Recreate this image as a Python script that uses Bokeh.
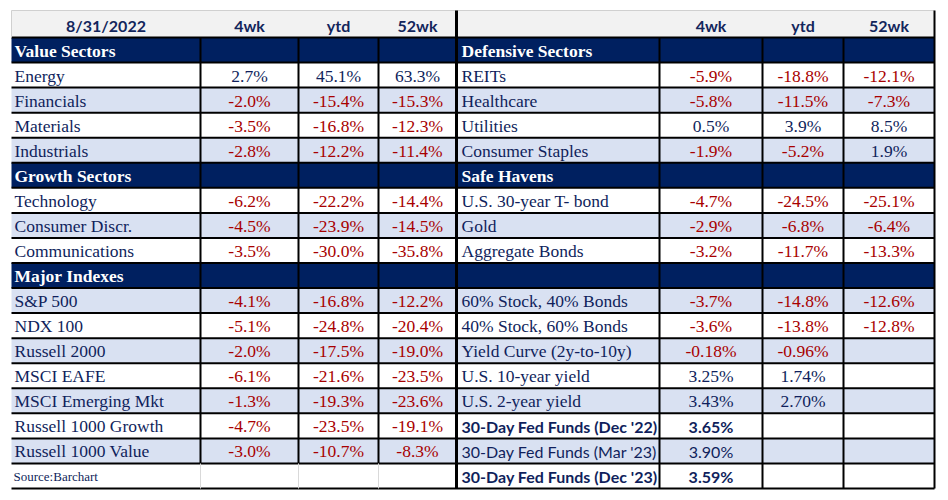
from bokeh.plotting import figure
from bokeh.models import Range1d, ColumnDataSource
from bokeh.core.properties import value
from bokeh.embed import file_html
from bokeh.resources import INLINE

# ---------------- data ----------------
date_label = "8/31/2022"
col_heads = ["4wk", "ytd", "52wk"]

value_labels = ["Energy", "Financials", "Materials", "Industrials"]
value_4wk = [2.7, -2.0, -3.5, -2.8]
value_ytd = [45.1, -15.4, -16.8, -12.2]
value_52wk = [63.3, -15.3, -12.3, -11.4]

growth_labels = ["Technology", "Consumer Discr.", "Communications"]
growth_4wk = [-6.2, -4.5, -3.5]
growth_ytd = [-22.2, -23.9, -30.0]
growth_52wk = [-14.4, -14.5, -35.8]

index_labels = ["S&P 500", "NDX 100", "Russell 2000", "MSCI EAFE",
                "MSCI Emerging Mkt", "Russell 1000 Growth", "Russell 1000 Value"]
index_4wk = [-4.1, -5.1, -2.0, -6.1, -1.3, -4.7, -3.0]
index_ytd = [-16.8, -24.8, -17.5, -21.6, -19.3, -23.5, -10.7]
index_52wk = [-12.2, -20.4, -19.0, -23.5, -23.6, -19.1, -8.3]

defensive_labels = ["REITs", "Healthcare", "Utilities", "Consumer Staples"]
defensive_4wk = [-5.9, -5.8, 0.5, -1.9]
defensive_ytd = [-18.8, -11.5, 3.9, -5.2]
defensive_52wk = [-12.1, -7.3, 8.5, 1.9]

safe_labels = ["U.S. 30-year T- bond", "Gold", "Aggregate Bonds"]
safe_4wk = [-4.7, -2.9, -3.2]
safe_ytd = [-24.5, -6.8, -11.7]
safe_52wk = [-25.1, -6.4, -13.3]

mix_labels = ["60% Stock, 40% Bonds", "40% Stock, 60% Bonds"]
mix_4wk = [-3.7, -3.6]
mix_ytd = [-14.8, -13.8]
mix_52wk = [-12.6, -12.8]

rate_labels = ["Yield Curve (2y-to-10y)", "U.S. 10-year yield", "U.S. 2-year yield"]
rate_4wk = [-0.18, 3.25, 3.43]
rate_ytd = [-0.96, 1.74, 2.70]

fed_labels = ["30-Day Fed Funds (Dec '22)", "30-Day Fed Funds (Mar '23)", "30-Day Fed Funds (Dec '23)"]
fed_values = [3.65, 3.90, 3.59]
fed_bold = [True, False, True]

source_label = "Source:Barchart"

# ---------------- styles ----------------
NAVY = "#002060"
BAND = "#d9e1f2"
HEAD_BG = "#f2f2f2"
TXT = "#101f5c"
HEAD_TXT = "#13265c"
RED = "#a80000"
SERIF = "Liberation Serif"
SANS = "Lato"

X_L = [11, 200, 298, 378, 456]
X_R = [456, 659, 762, 843, 934]
Y_TOP = 10
Y0 = 37
Y_END = 488
NROWS = 18
RH = (Y_END - Y0) / NROWS


def fmt(v, d=1):
    return f"{v:.{d}f}%" if v is not None else ""


def build(panel):
    rows = []
    for kind, label, vals, dec, font in panel:
        rows.append(dict(kind=kind, label=label, vals=vals, dec=dec, font=font))
    return rows


left = []
left.append(("section", "Value Sectors", [None] * 3, 1, "serif"))
for i, l in enumerate(value_labels):
    left.append(("item", l, [value_4wk[i], value_ytd[i], value_52wk[i]], 1, "serif"))
left.append(("section", "Growth Sectors", [None] * 3, 1, "serif"))
for i, l in enumerate(growth_labels):
    left.append(("item", l, [growth_4wk[i], growth_ytd[i], growth_52wk[i]], 1, "serif"))
left.append(("section", "Major Indexes", [None] * 3, 1, "serif"))
for i, l in enumerate(index_labels):
    left.append(("item", l, [index_4wk[i], index_ytd[i], index_52wk[i]], 1, "serif"))
left.append(("source", source_label, [None] * 3, 1, "serif"))
left = build(left)

right = []
right.append(("section", "Defensive Sectors", [None] * 3, 1, "serif"))
for i, l in enumerate(defensive_labels):
    right.append(("item", l, [defensive_4wk[i], defensive_ytd[i], defensive_52wk[i]], 1, "serif"))
right.append(("section", "Safe Havens", [None] * 3, 1, "serif"))
for i, l in enumerate(safe_labels):
    right.append(("item", l, [safe_4wk[i], safe_ytd[i], safe_52wk[i]], 1, "serif"))
right.append(("section", "", [None] * 3, 1, "serif"))
for i, l in enumerate(mix_labels):
    right.append(("item", l, [mix_4wk[i], mix_ytd[i], mix_52wk[i]], 1, "serif"))
for i, l in enumerate(rate_labels):
    right.append(("item", l, [rate_4wk[i], rate_ytd[i], None], 2, "serif"))
for i, l in enumerate(fed_labels):
    right.append(("item", l, [fed_values[i], None, None], 2, "sansbold" if fed_bold[i] else "sans"))
right = build(right)

p = figure(width=940, height=492, x_range=Range1d(0, 940), y_range=Range1d(492, 0),
           output_backend="svg", toolbar_location=None, min_border=0,
           x_axis_location=None, y_axis_location=None, outline_line_color=None,
           background_fill_color="white", border_fill_color="white")
p.grid.visible = False

# header background
p.quad(left=[X_L[0]], right=[X_R[-1]], top=[Y_TOP], bottom=[Y0], fill_color=HEAD_BG, line_color=None)

fills = dict(left=[], right=[], top=[], bottom=[], color=[])
texts = {k: dict(x=[], y=[], text=[], color=[], align=[]) for k in
         ["serif", "serifbold", "sans", "sansbold", "small"]}


def add_text(style, x, y, t, c, a):
    d = texts[style]
    d["x"].append(x); d["y"].append(y); d["text"].append(t); d["color"].append(c); d["align"].append(a)


for X, rows, lx in [(X_L, left, 14), (X_R, right, 461)]:
    n_item = 0
    for r, row in enumerate(rows):
        top = Y0 + r * RH
        bot = top + RH
        mid = top + RH / 2 + 0.5
        if row["kind"] == "section":
            col = NAVY
        else:
            col = BAND if n_item % 2 == 1 else "white"
            n_item += 1
        fills["left"].append(X[0]); fills["right"].append(X[4])
        fills["top"].append(top); fills["bottom"].append(bot); fills["color"].append(col)
        if row["kind"] == "section":
            if row["label"]:
                add_text("serifbold", lx, mid, row["label"], "white", "left")
        elif row["kind"] == "source":
            add_text("small", lx - 1, mid, row["label"], TXT, "left")
        else:
            style = row["font"]
            add_text(style, lx, mid, row["label"], TXT, "left")
            for j, v in enumerate(row["vals"]):
                if v is None:
                    continue
                cx = (X[j + 1] + X[j + 2]) / 2
                c = RED if v < 0 else TXT
                add_text(style, cx, mid, fmt(v, row["dec"]), c, "center")

p.quad(left="left", right="right", top="top", bottom="bottom", fill_color="color",
       line_color=None, source=ColumnDataSource(fills))

# column headers
hmid = (Y_TOP + Y0) / 2 + 1
add_text("sansbold", (X_L[0] + X_L[1]) / 2, hmid, date_label, HEAD_TXT, "center")
for j, h in enumerate(col_heads):
    add_text("sansbold", (X_L[j + 1] + X_L[j + 2]) / 2, hmid, h, HEAD_TXT, "center")
    add_text("sansbold", (X_R[j + 1] + X_R[j + 2]) / 2, hmid, h, HEAD_TXT, "center")

# grid lines
hy = [Y0 + k * RH for k in range(NROWS + 1)]
p.segment(x0=[X_L[0]] * len(hy), x1=[X_R[-1]] * len(hy), y0=hy, y1=hy, line_color="black", line_width=2)
p.segment(x0=[X_L[0]], x1=[X_R[-1]], y0=[Y_TOP], y1=[Y_TOP], line_color="#d0d0d0", line_width=1)
p.segment(x0=[X_L[0]], x1=[X_L[0]], y0=[Y_TOP], y1=[Y0], line_color="#d0d0d0", line_width=1)
src_top = Y0 + 17 * RH
p.segment(x0=X_L[1:4], x1=X_L[1:4], y0=[Y0] * 3, y1=[src_top] * 3, line_color="black", line_width=2)
p.segment(x0=X_L[1:4], x1=X_L[1:4], y0=[src_top] * 3, y1=[Y_END] * 3, line_color="#d9d9d9", line_width=1)
p.segment(x0=X_R[1:4], x1=X_R[1:4], y0=[Y0] * 3, y1=[Y_END] * 3, line_color="black", line_width=2)
p.segment(x0=[X_R[4]], x1=[X_R[4]], y0=[Y_TOP], y1=[Y_END], line_color="black", line_width=2)
p.segment(x0=[X_L[4]], x1=[X_L[4]], y0=[Y_TOP], y1=[Y_END], line_color="black", line_width=3)

font_map = {
    "serif": (SERIF, "normal", "17.5px"),
    "serifbold": (SERIF, "bold", "17.5px"),
    "sans": (SANS, "normal", "16px"),
    "sansbold": (SANS, "bold", "16px"),
    "small": (SERIF, "normal", "13px"),
}
for k, d in texts.items():
    if not d["x"]:
        continue
    f, st, sz = font_map[k]
    p.text(x="x", y="y", text="text", text_color="color", text_align="align",
           text_baseline="middle", text_font=value(f), text_font_style=st,
           text_font_size=sz, source=ColumnDataSource(d))

open("out.html", "w").write(file_html(p, INLINE))
